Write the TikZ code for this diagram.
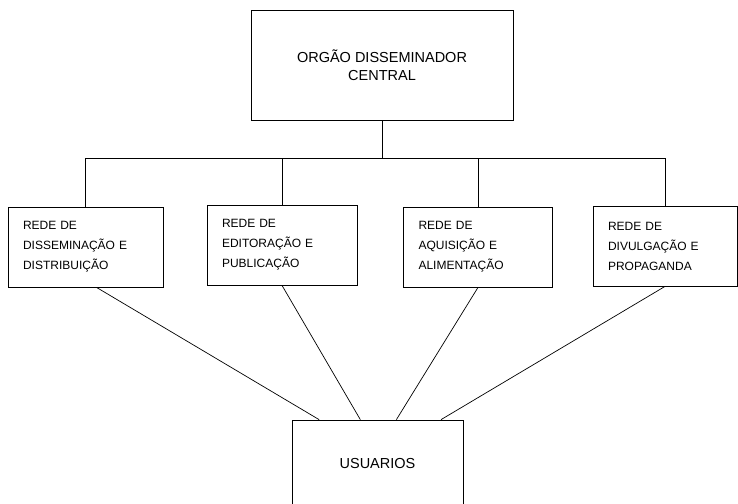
\documentclass[tikz,border=0pt]{standalone}
\usepackage{fontspec}
\setmainfont{Liberation Sans}
\usetikzlibrary{calc}

\begin{document}
\begin{tikzpicture}[x=1pt,y=-1pt]
		\tikzset{caixa/.style={draw,line width=0.8pt,align=center,font=\fontsize{14.5}{18}\selectfont}}
		\tikzset{rede/.style={draw,line width=0.8pt,minimum height=80pt,inner xsep=15pt,align=left,font=\fontsize{12}{20}\selectfont}}
		\tikzset{ligacao/.style={line width=0.7pt}}
		\useasboundingbox (0,0) rectangle (738,503);
		\clip (0,0) rectangle (738,503);
		% orgao central e redes
		\node[caixa,minimum width=262pt,minimum height=110pt] (orgao) at (382,65) {ORGÃO DISSEMINADOR\\CENTRAL};
		\node[rede,text width=125pt] (r1) at (85.5,247) {REDE DE\\DISSEMINAÇÃO E\\DISTRIBUIÇÃO};
		\node[rede,text width=120pt] (r2) at (282,245) {REDE DE\\EDITORAÇÃO E\\PUBLICAÇÃO};
		\node[rede,text width=119pt] (r3) at (478,247) {REDE DE\\AQUISIÇÃO E\\ALIMENTAÇÃO};
		\node[rede,text width=114pt] (r4) at (665,246) {REDE DE\\DIVULGAÇÃO E\\PROPAGANDA};
		\node[caixa,minimum width=171pt,minimum height=88pt] (usr) at (377.5,464) {USUARIOS};
		% barramento
		\coordinate (juncao) at (382,158);
		\draw[ligacao] (orgao.south) -- (juncao);
		\foreach \r in {r1,r2,r3,r4}
			\draw[ligacao] (juncao) -| (\r.north);
		% ligacoes aos usuarios
		\draw[ligacao] ([xshift=11pt]r1.south) -- ($(usr.north west)!0.16!(usr.north east)$);
		\draw[ligacao] (r2.south) -- ($(usr.north west)!0.40!(usr.north east)$);
		\draw[ligacao] (r3.south) -- ($(usr.north west)!0.61!(usr.north east)$);
		\draw[ligacao] (r4.south) -- ($(usr.north west)!0.87!(usr.north east)$);
\end{tikzpicture}
\end{document}
